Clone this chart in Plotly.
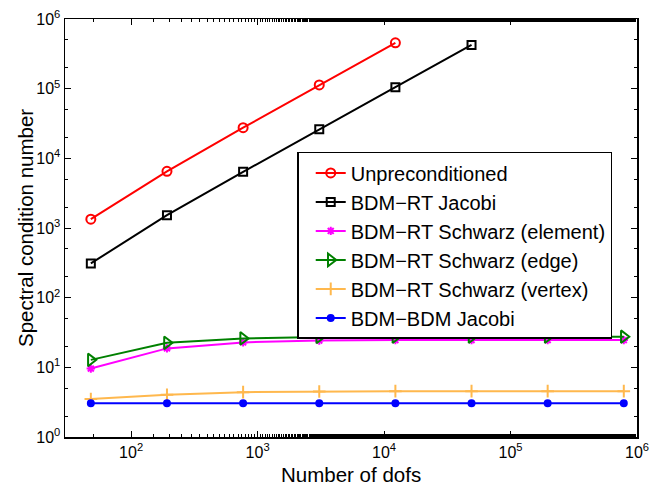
import plotly.graph_objects as go

dofs = [48, 192, 768, 3072, 12288, 49152, 196608, 786432]
unprec = [1340, 6500, 27500, 113000, 455000]
bdmrt_jacobi = [310, 1530, 6400, 26200, 105000, 425000]
schwarz_element = [9.6, 18.7, 22.8, 24.3, 24.6, 24.6, 24.6, 24.6]
schwarz_edge = [12.8, 22.5, 26.0, 27.3, 27.5, 27.5, 27.5, 27.5]
schwarz_vertex = [3.5, 4.05, 4.4, 4.5, 4.55, 4.55, 4.55, 4.55]
bdm_jacobi = [3.05, 3.05, 3.05, 3.05, 3.05, 3.05, 3.05, 3.05]

names = ["Unpreconditioned", "BDM\u2212RT Jacobi", "BDM\u2212RT Schwarz (element)",
         "BDM\u2212RT Schwarz (edge)", "BDM\u2212RT Schwarz (vertex)", "BDM\u2212BDM Jacobi"]

x_ticks = [1e2, 1e3, 1e4, 1e5, 1e6]
x_ticktext = ["10<sup>2</sup>", "10<sup>3</sup>", "10<sup>4</sup>", "10<sup>5</sup>", "10<sup>6</sup>"]
y_ticks = [1, 1e1, 1e2, 1e3, 1e4, 1e5, 1e6]
y_ticktext = ["10<sup>0</sup>", "10<sup>1</sup>", "10<sup>2</sup>", "10<sup>3</sup>",
              "10<sup>4</sup>", "10<sup>5</sup>", "10<sup>6</sup>"]

series = [
    (unprec, names[0], "#ff0000", "circle-open", 9),
    (bdmrt_jacobi, names[1], "#000000", "square-open", 8),
    (schwarz_element, names[2], "#ff00ff", "asterisk-open", 7),
    (schwarz_edge, names[3], "#008000", "triangle-right-open", 11),
    (schwarz_vertex, names[4], "#ffb84d", "cross-thin-open", 9),
    (bdm_jacobi, names[5], "#0000ff", "circle", 6),
]

fig = go.Figure()
for vals, name, color, sym, size in series:
    fig.add_trace(go.Scatter(
        x=dofs[:len(vals)], y=vals, name=name, mode="lines+markers",
        line=dict(color=color, width=2),
        marker=dict(symbol=sym, size=size, color=color, line=dict(color=color, width=2)),
    ))

font_family = "Liberation Sans, Arial, Helvetica, sans-serif"
axis_common = dict(
    type="log", showline=True, linecolor="black", linewidth=1.5, mirror="allticks",
    ticks="inside", ticklen=6, tickcolor="black", tickwidth=1, showgrid=False, zeroline=False,
    tickfont=dict(size=16, color="black", family=font_family),
    minor=dict(ticks="inside", ticklen=3, tickcolor="black", showgrid=False),
    automargin=False, ticklabeloverflow="allow",
)

fig.update_layout(
    width=651, height=486,
    margin=dict(l=65, r=14, t=19, b=49),
    plot_bgcolor="white", paper_bgcolor="white",
    font=dict(family=font_family, color="black"),
    xaxis=dict(axis_common, range=[1.477, 6], tickvals=x_ticks, ticktext=x_ticktext),
    yaxis=dict(axis_common, range=[0, 6], tickvals=y_ticks, ticktext=y_ticktext),
    legend=dict(x=0.406, y=0.682, xanchor="left", yanchor="top",
                bordercolor="black", borderwidth=1.5, bgcolor="white", indentation=12,
                font=dict(size=20, color="black"), tracegroupgap=0),
    showlegend=True,
    hovermode=False,
    annotations=[
        dict(text="Number of dofs", xref="paper", yref="paper", x=0.5, y=0,
             xanchor="center", yanchor="middle", yshift=-37, showarrow=False,
             font=dict(size=20.5, color="black")),
        dict(text="Spectral condition number", xref="paper", yref="paper", x=0, y=0.5,
             xanchor="center", yanchor="middle", xshift=-40, textangle=-90, showarrow=False,
             font=dict(size=20.5, color="black")),
    ],
)

fig.write_html("out.html",
               config={"staticPlot": True, "displayModeBar": False},
               post_script="document.body.style.margin='0';document.body.style.overflow='hidden';")
